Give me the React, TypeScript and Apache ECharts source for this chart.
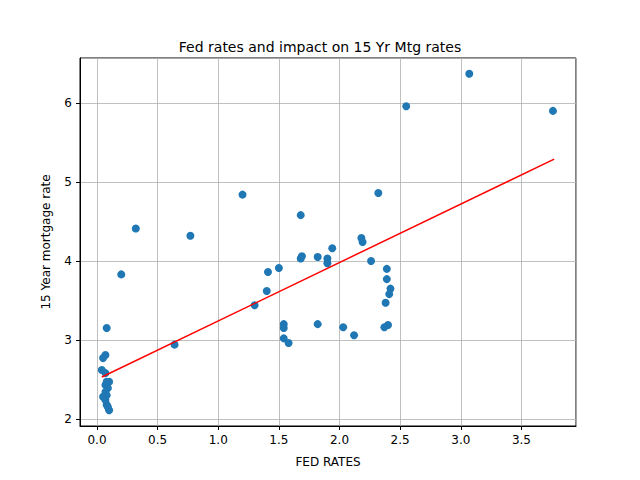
import React, { useEffect, useRef } from 'react'
import * as echarts from 'echarts'

const fedRates = [
  0.32, 0.20, 0.77, 1.20, 1.68, 2.55, 3.07, 3.76, 2.32, 0.64, 1.30,
  1.41, 1.50, 1.40, 1.69, 1.68, 1.82, 1.90, 1.90, 1.94, 2.18, 2.19, 2.26,
  2.39, 2.39, 2.42, 2.41, 2.38, 2.40, 2.37, 1.54, 1.54, 1.54, 1.58, 1.82, 2.03, 2.12,
  0.08, 0.07, 0.05, 0.04, 0.07, 0.08, 0.10, 0.07, 0.09, 0.07, 0.08, 0.05, 0.07, 0.08, 0.10, 0.09,
]
const mtgRates = [
  4.41, 3.83, 4.32, 4.84, 4.58, 5.96, 6.37, 5.90, 4.86, 2.94, 3.44,
  3.86, 3.91, 3.62, 4.06, 4.03, 4.05, 4.03, 3.97, 4.16, 4.29, 4.24, 4.00,
  3.90, 3.77, 3.65, 3.58, 3.47, 3.19, 3.16, 3.20, 3.15, 3.02, 2.96, 3.20, 3.16, 3.06,
  3.15, 2.81, 2.77, 2.62, 2.58, 2.47, 2.47, 2.43, 2.39, 2.34, 2.30, 2.28, 2.24, 2.18, 2.11, 2.15,
]
const trendX = [0.04, 3.77]
const trendY = [2.53, 5.29]

const font = 'DejaVu Sans'

export default function App() {
  const ref = useRef<HTMLDivElement>(null)
  useEffect(() => {
    if (!ref.current) return
    const chart = echarts.init(ref.current, null, { renderer: 'svg' })
    const axisCommon = {
      axisLine: { show: true, onZero: false, lineStyle: { color: '#000' } },
      axisTick: { show: true, length: 4, lineStyle: { color: '#000' } },
      splitLine: { show: true, lineStyle: { color: '#b0b0b0', width: 0.8 } },
      nameTextStyle: { color: '#000', fontSize: 12, fontFamily: font },
    }
    chart.setOption({
      animation: false,
      title: {
        text: 'Fed rates and impact on 15 Yr Mtg rates',
        left: 'center', top: 35,
        textStyle: { fontSize: 14, fontWeight: 'normal', color: '#000', fontFamily: font },
      },
      grid: { left: 80, right: 64, top: 58, bottom: 54, show: true, borderColor: '#000', borderWidth: 1 },
      xAxis: {
        type: 'value', min: -0.14, max: 3.95, splitNumber: 8,
        name: 'FED RATES', nameLocation: 'middle', nameGap: 30,
        ...axisCommon,
        axisLabel: {
          color: '#000', fontSize: 12, fontFamily: font, showMinLabel: false, showMaxLabel: false,
          formatter: (v: number) => v.toFixed(1),
        },
      },
      yAxis: {
        type: 'value', min: 1.91, max: 6.57, splitNumber: 5,
        name: '15 Year mortgage rate', nameLocation: 'middle', nameGap: 28,
        ...axisCommon,
        axisLabel: {
          color: '#000', fontSize: 12, fontFamily: font, showMinLabel: false, showMaxLabel: false,
          formatter: (v: number) => String(Math.round(v)),
        },
      },
      series: [
        {
          type: 'scatter', symbolSize: 8,
          itemStyle: { color: '#1f77b4', opacity: 1 },
          data: fedRates.map((x, i) => [x, mtgRates[i]]),
        },
        {
          type: 'line', symbol: 'none',
          lineStyle: { color: '#ff0000', width: 1.5 },
          data: trendX.map((x, i) => [x, trendY[i]]),
        },
      ],
    })
    return () => chart.dispose()
  }, [])
  return <div ref={ref} style={{ width: 640, height: 480, margin: -8 }} />
}
